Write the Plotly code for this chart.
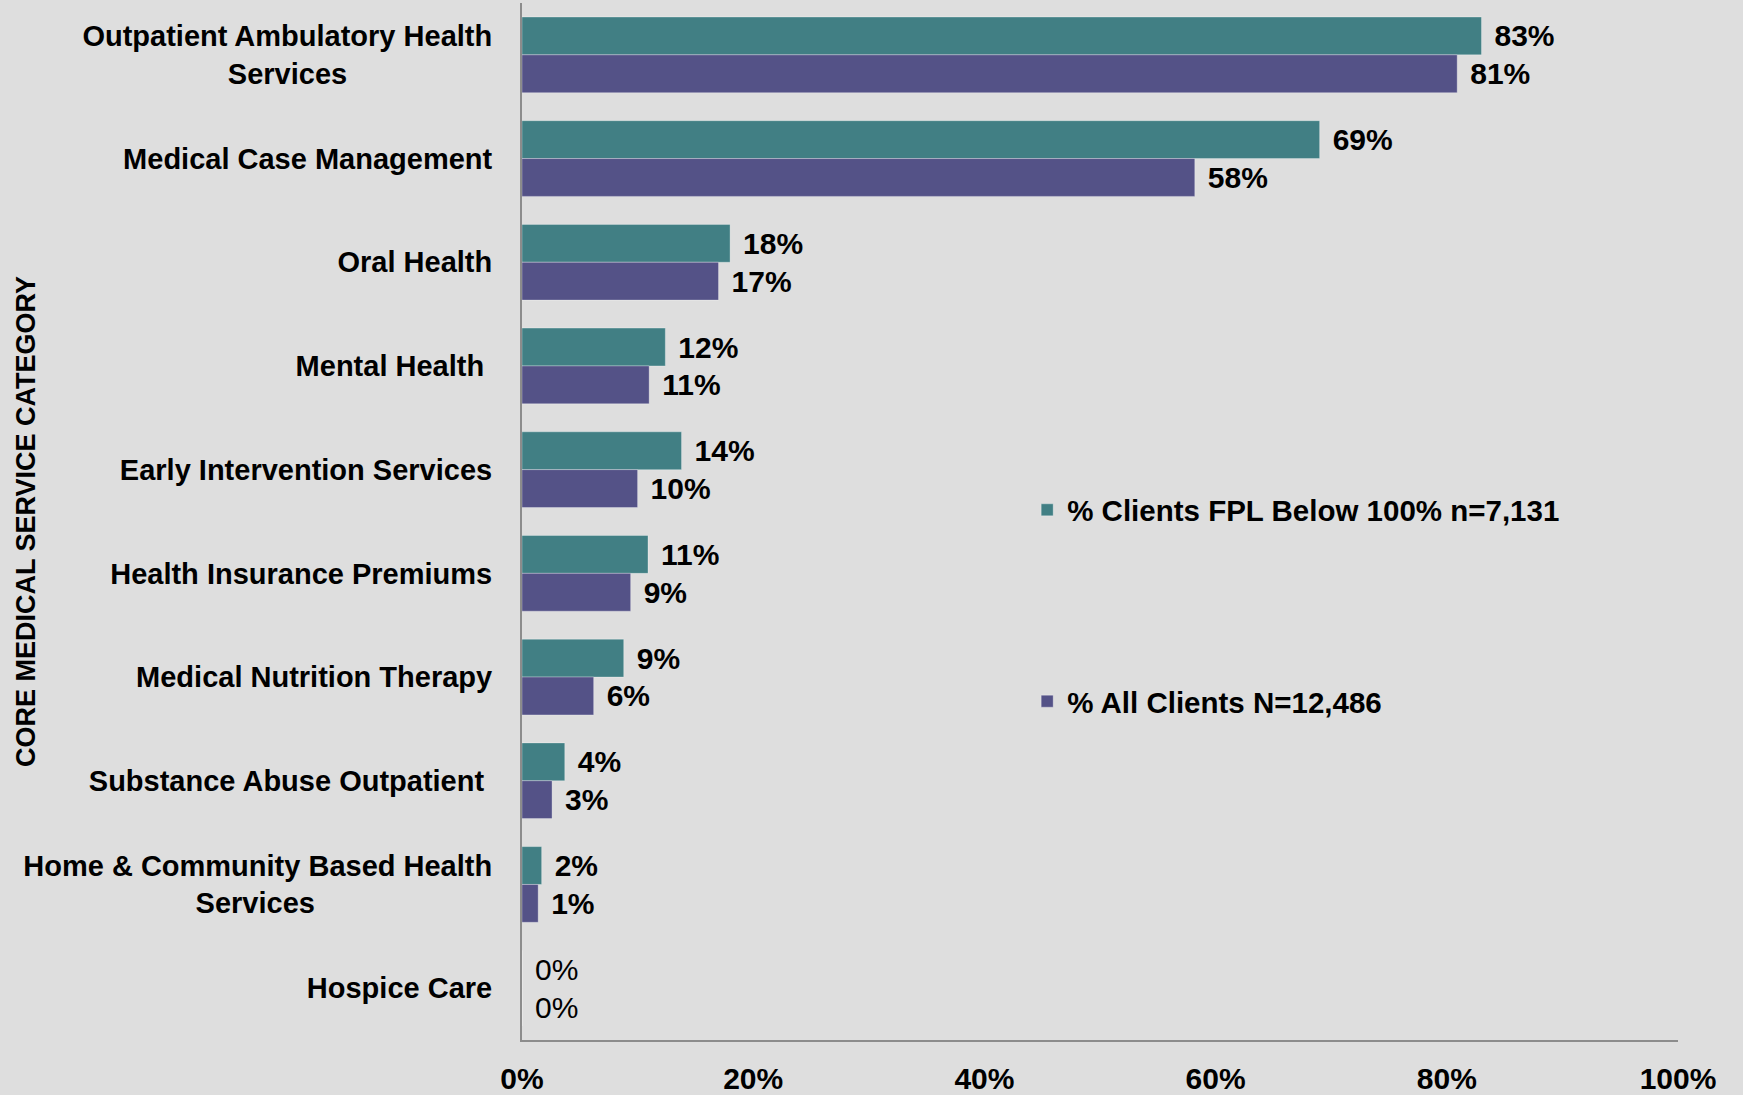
import plotly.graph_objects as go

NB = "\u00a0"
categories = [
    "Outpatient Ambulatory Health<br>Services" + NB * 18,
    "Medical Case Management",
    "Oral Health",
    "Mental Health" + NB,
    "Early Intervention Services",
    "Health Insurance Premiums",
    "Medical Nutrition Therapy",
    "Substance Abuse Outpatient" + NB,
    "Home & Community Based Health<br>Services" + NB * 22,
    "Hospice Care",
]
fpl_below_100 = [83.0, 69.0, 18.0, 12.4, 13.8, 10.9, 8.8, 3.7, 1.7, 0.0]
all_clients = [80.9, 58.2, 17.0, 11.0, 10.0, 9.4, 6.2, 2.6, 1.4, 0.0]
series_names = ["% Clients FPL Below 100% n=7,131", "% All Clients N=12,486"]
x_ticks = [0, 20, 40, 60, 80, 100]
x_tick_labels = ["0%", "20%", "40%", "60%", "80%", "100%"]

FONT = "Liberation Sans, Arial, sans-serif"
TEAL = "#417F84"
PURPLE = "#545287"
BG = "#DEDEDE"


def label(v):
    s = f"\u2004{v:.0f}%"
    return f"<b>{s}</b>" if round(v) != 0 else s


fig = go.Figure()
for name, vals, color, grp in [
    (series_names[0], fpl_below_100, TEAL, "a"),
    (series_names[1], all_clients, PURPLE, "b"),
]:
    fig.add_trace(go.Bar(
        y=categories, x=vals, name=name, orientation="h",
        marker=dict(color=color, line=dict(width=1, color="rgba(255,255,255,0.3)")),
        text=[label(v) for v in vals], texttemplate="%{text}", textposition="outside",
        textfont=dict(family=FONT, size=30, color="black", weight="normal"),
        cliponaxis=False, legendgroup=grp,
    ))

fig.update_layout(
    width=1743, height=1095,
    paper_bgcolor=BG, plot_bgcolor=BG,
    margin=dict(l=522, r=65, t=3, b=55),
    barmode="group", bargap=0.27, bargroupgap=0,
    font=dict(family=FONT, size=29, color="black", weight="bold"),
    showlegend=True,
    legend=dict(
        x=0.437, y=0.536, xanchor="left", yanchor="top",
        bgcolor="rgba(0,0,0,0)", traceorder="grouped", tracegroupgap=150,
        font=dict(family=FONT, size=29.5, color="black", weight="bold"),
    ),
    xaxis=dict(
        range=[0, 100], tickvals=x_ticks, ticktext=x_tick_labels,
        showgrid=False, zeroline=False, showline=True, automargin=False,
        linecolor="#8C8C8C", linewidth=2,
        ticks="outside", ticklen=11, tickcolor="rgba(0,0,0,0)",
        tickfont=dict(family=FONT, size=30, color="black", weight="bold"),
    ),
    yaxis=dict(
        autorange="reversed", showgrid=False, zeroline=False, showline=True,
        automargin=False,
        linecolor="#8C8C8C", linewidth=2,
        ticks="outside", ticklen=22, tickcolor="rgba(0,0,0,0)",
        tickfont=dict(family=FONT, size=29, color="black", weight="bold"),
    ),
    annotations=[dict(
        text="CORE MEDICAL SERVICE CATEGORY", textangle=-90,
        xref="paper", yref="paper", x=-0.429, y=0.4995,
        xanchor="center", yanchor="middle", showarrow=False,
        font=dict(family="Liberation Sans Narrow, Liberation Sans, Arial, sans-serif",
                  size=27, color="black", weight="bold"),
    )],
)

fig.write_html("out.html", config={"displayModeBar": False},
               post_script="document.body.style.margin='0px';")
